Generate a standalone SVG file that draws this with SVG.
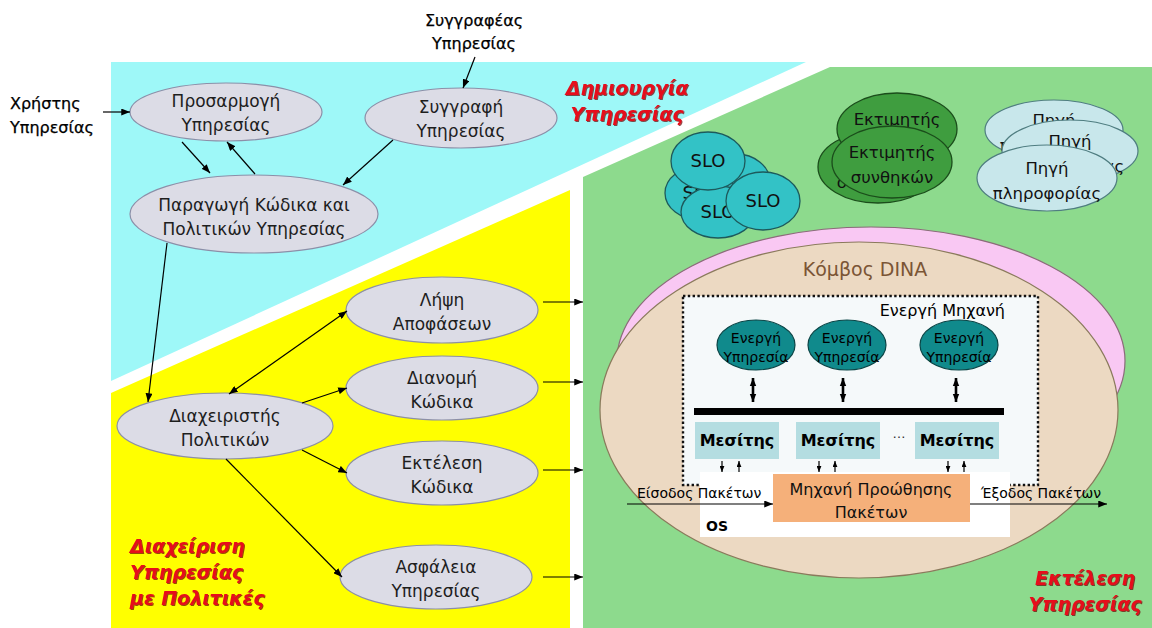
<svg xmlns="http://www.w3.org/2000/svg" width="1152" height="628" viewBox="0 0 1152 628">
  <defs>
    <marker id="arr" viewBox="0 0 10 8" refX="10" refY="4" markerWidth="9" markerHeight="7" markerUnits="userSpaceOnUse" orient="auto-start-reverse">
      <path d="M0,0 L10,4 L0,8 z" fill="#000"/>
    </marker>
    <marker id="arrS" viewBox="0 0 10 8" refX="10" refY="4" markerWidth="6" markerHeight="5" markerUnits="userSpaceOnUse" orient="auto-start-reverse">
      <path d="M0,0 L10,4 L0,8 z" fill="#000"/>
    </marker>
    <marker id="arrT" viewBox="0 0 10 8" refX="10" refY="4" markerWidth="8" markerHeight="8" markerUnits="userSpaceOnUse" orient="auto-start-reverse">
      <path d="M0,0 L10,4 L0,8 z" fill="#000"/>
    </marker>
    <filter id="shadow" x="-10%" y="-20%" width="120%" height="150%">
      <feDropShadow dx="1" dy="1" stdDeviation="0.4" flood-color="#6a0000" flood-opacity="0.7"/>
    </filter>
  </defs>
  <style>
    text{font-family:"DejaVu Sans","Liberation Sans",sans-serif;}
    .node{fill:#dcdce6;stroke:#8c8fa8;stroke-width:1.2}
    .lbl{font-size:17px;fill:#1e1e1e;text-anchor:middle}
    .ext{font-size:16px;fill:#000;stroke:#000;stroke-width:0.25}
    .red{font-weight:bold;font-style:italic;fill:#e6101a;font-size:19px;filter:url(#shadow)}
    .slo{fill:#33c2c6;stroke:#1d5a5c;stroke-width:1.3}
    .slot{font-size:18px;fill:#111;text-anchor:middle}
    .est{fill:#3f9d3f;stroke:#1b4d1b;stroke-width:1.3}
    .src{fill:#c8e7eb;stroke:#4f7d80;stroke-width:1.2}
    .ct{font-size:16.5px;fill:#111;text-anchor:middle}
    .svc{fill:#108a8c;stroke:#0a4546;stroke-width:1.2}
    .svct{font-size:14px;fill:#000;text-anchor:middle}
    .broker{fill:#b4dde1}
    .bt{font-size:16px;font-weight:bold;fill:#000;text-anchor:middle}
    .con{fill:none;stroke:#000;stroke-width:1.2}
    .thick{fill:none;stroke:#000;stroke-width:2.6}
  </style>

  <!-- background zones -->
  <rect x="0" y="0" width="1152" height="628" fill="#ffffff"/>
  <polygon id="zone-creation" points="111,62 806,62 111,381" fill="#9ef8f8"/>
  <polygon id="zone-management" points="111,393 570,190 570,628 111,628" fill="#ffff00"/>
  <polygon id="zone-execution" points="583,177 830,67 1152,67 1152,628 583,628" fill="#8dda8d"/>

  <!-- zone titles -->
  <g id="label-creation">
    <text class="red" x="627" y="95" text-anchor="middle">Δημιουργία</text>
    <text class="red" x="627" y="121" text-anchor="middle">Υπηρεσίας</text>
  </g>
  <g id="label-management">
    <text class="red" x="130" y="553">Διαχείριση</text>
    <text class="red" x="130" y="579">Υπηρεσίας</text>
    <text class="red" x="130" y="605">με Πολιτικές</text>
  </g>
  <g id="label-execution">
    <text class="red" x="1085" y="585" text-anchor="middle">Εκτέλεση</text>
    <text class="red" x="1085" y="611" text-anchor="middle">Υπηρεσίας</text>
  </g>

  <!-- actors -->
  <g id="service-user">
    <text class="ext" x="10" y="109">Χρήστης</text>
    <text class="ext" x="10" y="133">Υπηρεσίας</text>
  </g>
  <g id="service-author">
    <text class="ext" x="474" y="26" text-anchor="middle">Συγγραφέας</text>
    <text class="ext" x="474" y="49" text-anchor="middle">Υπηρεσίας</text>
  </g>

  <!-- service creation nodes -->
  <g id="adaptation">
    <ellipse class="node" cx="226" cy="112" rx="96" ry="29"/>
    <text class="lbl" x="226" y="107">Προσαρμογή</text>
    <text class="lbl" x="226" y="131">Υπηρεσίας</text>
  </g>
  <g id="authoring">
    <ellipse class="node" cx="461" cy="118" rx="96" ry="30"/>
    <text class="lbl" x="461" y="113">Συγγραφή</text>
    <text class="lbl" x="461" y="137">Υπηρεσίας</text>
  </g>
  <g id="code-generation">
    <ellipse class="node" cx="254" cy="214" rx="124" ry="39"/>
    <text class="lbl" x="254" y="211">Παραγωγή Κώδικα και</text>
    <text class="lbl" x="254" y="235">Πολιτικών Υπηρεσίας</text>
  </g>

  <!-- policy management nodes -->
  <g id="policy-manager">
    <ellipse class="node" cx="225" cy="426" rx="108" ry="33"/>
    <text class="lbl" x="225" y="422">Διαχειριστής</text>
    <text class="lbl" x="225" y="446">Πολιτικών</text>
  </g>
  <g id="decision">
    <ellipse class="node" cx="442" cy="310" rx="96" ry="33"/>
    <text class="lbl" x="442" y="306">Λήψη</text>
    <text class="lbl" x="442" y="330">Αποφάσεων</text>
  </g>
  <g id="code-distribution">
    <ellipse class="node" cx="442" cy="388" rx="96" ry="32"/>
    <text class="lbl" x="442" y="384">Διανομή</text>
    <text class="lbl" x="442" y="408">Κώδικα</text>
  </g>
  <g id="code-execution">
    <ellipse class="node" cx="442" cy="473" rx="96" ry="32"/>
    <text class="lbl" x="442" y="469">Εκτέλεση</text>
    <text class="lbl" x="442" y="493">Κώδικα</text>
  </g>
  <g id="service-security">
    <ellipse class="node" cx="436" cy="577" rx="96" ry="32"/>
    <text class="lbl" x="436" y="573">Ασφάλεια</text>
    <text class="lbl" x="436" y="597">Υπηρεσίας</text>
  </g>

  <!-- SLO stack -->
  <g id="slo-stack">
    <ellipse class="slo" cx="736" cy="182" rx="34" ry="28"/>
    <ellipse class="slo" cx="700" cy="193" rx="35" ry="27"/>
    <text class="slot" x="700" y="199">SLO</text>
    <ellipse class="slo" cx="718" cy="212" rx="37" ry="26"/>
    <text class="slot" x="718" y="218">SLO</text>
    <ellipse class="slo" cx="708" cy="161" rx="37" ry="29"/>
    <text class="slot" x="708" y="167">SLO</text>
    <ellipse class="slo" cx="763" cy="201" rx="37" ry="29"/>
    <text class="slot" x="763" y="207">SLO</text>
  </g>

  <!-- condition estimators -->
  <g id="condition-estimators">
    <ellipse class="est" cx="878" cy="167" rx="60" ry="36"/>
    <text class="ct" x="878" y="188">συνθηκών</text>
    <ellipse class="est" cx="897" cy="129" rx="60" ry="36"/>
    <text class="ct" x="897" y="125">Εκτιμητής</text>
    <ellipse class="est" cx="892" cy="162" rx="60" ry="36"/>
    <text class="ct" x="892" y="158">Εκτιμητής</text>
    <text class="ct" x="892" y="183">συνθηκών</text>
  </g>

  <!-- information sources -->
  <g id="information-sources">
    <ellipse class="src" cx="1054" cy="130" rx="69" ry="30"/>
    <text class="ct" x="1054" y="126">Πηγή</text>
    <text class="ct" x="1054" y="151">πληροφορίας</text>
    <ellipse class="src" cx="1070" cy="151" rx="68" ry="31"/>
    <text class="ct" x="1070" y="147">Πηγή</text>
    <text class="ct" x="1070" y="172">πληροφορίας</text>
    <ellipse class="src" cx="1047" cy="178" rx="70" ry="33"/>
    <text class="ct" x="1047" y="174">Πηγή</text>
    <text class="ct" x="1047" y="199">πληροφορίας</text>
  </g>

  <!-- DINA node -->
  <g id="dina-node">
    <ellipse cx="871" cy="361" rx="254" ry="134" fill="#f9c8f3" stroke="#8c6b7a" stroke-width="1.2"/>
    <ellipse cx="859" cy="410" rx="259" ry="168" fill="#ecd9c2" stroke="#8a7a5c" stroke-width="1.2"/>
    <text x="865" y="276" font-size="19" fill="#7b5535" text-anchor="middle">Κόμβος DINA</text>
  </g>

  <g id="active-engine">
    <rect x="683" y="296" width="355" height="189" fill="#f5f9fa" stroke="#111" stroke-width="2.4" stroke-dasharray="2.4 2.4"/>
    <text x="1005" y="316" font-size="16" fill="#000" text-anchor="end">Ενεργή Μηχανή</text>
    <rect x="694" y="408" width="310" height="7" fill="#000"/>
  </g>

  <g id="active-service-1">
    <ellipse class="svc" cx="756" cy="345" rx="39" ry="25"/>
    <text class="svct" x="756" y="343">Ενεργή</text>
    <text class="svct" x="756" y="362">Υπηρεσία</text>
  </g>
  <g id="active-service-2">
    <ellipse class="svc" cx="847" cy="345" rx="39" ry="25"/>
    <text class="svct" x="847" y="343">Ενεργή</text>
    <text class="svct" x="847" y="362">Υπηρεσία</text>
  </g>
  <g id="active-service-3">
    <ellipse class="svc" cx="959" cy="345" rx="39" ry="25"/>
    <text class="svct" x="959" y="343">Ενεργή</text>
    <text class="svct" x="959" y="362">Υπηρεσία</text>
  </g>

  <g id="broker-1">
    <rect class="broker" x="695" y="422" width="84" height="37"/>
    <text class="bt" x="737" y="446">Μεσίτης</text>
  </g>
  <g id="broker-2">
    <rect class="broker" x="796" y="422" width="84" height="37"/>
    <text class="bt" x="838" y="446">Μεσίτης</text>
  </g>
  <text x="899" y="438" font-size="13" fill="#333" text-anchor="middle">…</text>
  <g id="broker-3">
    <rect class="broker" x="915" y="422" width="84" height="37"/>
    <text class="bt" x="957" y="446">Μεσίτης</text>
  </g>

  <g id="os">
    <rect x="700" y="472" width="310" height="65" fill="#ffffff"/>
    <text x="706" y="531" font-size="14" font-weight="bold" fill="#000">OS</text>
  </g>
  <g id="forwarding-engine">
    <rect x="773" y="474" width="197" height="48" fill="#f5b07a"/>
    <text x="871" y="495" font-size="16" fill="#111" text-anchor="middle">Μηχανή Προώθησης</text>
    <text x="871" y="518" font-size="16" fill="#111" text-anchor="middle">Πακέτων</text>
  </g>
  <g id="packet-labels">
    <text x="637" y="498" font-size="14" fill="#000">Είσοδος Πακέτων</text>
    <text x="981" y="498" font-size="14" fill="#000">Έξοδος Πακέτων</text>
  </g>

  <!-- connectors -->
  <g id="connectors">
    <path class="con" d="M103,112 L130,112" marker-end="url(#arr)"/>
    <path class="con" d="M475,57 L463,88" marker-end="url(#arr)"/>
    <path class="con" d="M182,142 L210,173" marker-end="url(#arr)"/>
    <path class="con" d="M255,174 L227,142" marker-end="url(#arr)"/>
    <path class="con" d="M393,140 L343,185" marker-end="url(#arr)"/>
    <path class="con" d="M167,243 L148,402" marker-end="url(#arr)"/>
    <path class="con" d="M229,394 L347,311" marker-start="url(#arr)" marker-end="url(#arr)"/>
    <path class="con" d="M302,403 L347,388" marker-end="url(#arr)"/>
    <path class="con" d="M302,450 L347,473" marker-end="url(#arr)"/>
    <path class="con" d="M226,459 L342,577" marker-end="url(#arr)"/>
    <path class="con" d="M543,302 L583,302" marker-end="url(#arr)"/>
    <path class="con" d="M543,382 L583,382" marker-end="url(#arr)"/>
    <path class="con" d="M543,470 L583,470" marker-end="url(#arr)"/>
    <path class="con" d="M543,577 L583,577" marker-end="url(#arr)"/>
    <path class="thick" d="M753,378 L753,402" marker-start="url(#arrT)" marker-end="url(#arrT)"/>
    <path class="thick" d="M843,378 L843,402" marker-start="url(#arrT)" marker-end="url(#arrT)"/>
    <path class="thick" d="M956,378 L956,402" marker-start="url(#arrT)" marker-end="url(#arrT)"/>
    <path class="con" d="M722,461 L722,472" marker-end="url(#arrS)"/>
    <path class="con" d="M739,472 L739,461" marker-end="url(#arrS)"/>
    <path class="con" d="M819,461 L819,472" marker-end="url(#arrS)"/>
    <path class="con" d="M835,472 L835,461" marker-end="url(#arrS)"/>
    <path class="con" d="M948,461 L948,472" marker-end="url(#arrS)"/>
    <path class="con" d="M964,472 L964,461" marker-end="url(#arrS)"/>
    <path class="con" d="M627,504 L773,504" marker-end="url(#arr)"/>
    <path class="con" d="M970,504 L1107,504" marker-end="url(#arr)"/>
  </g>
</svg>
